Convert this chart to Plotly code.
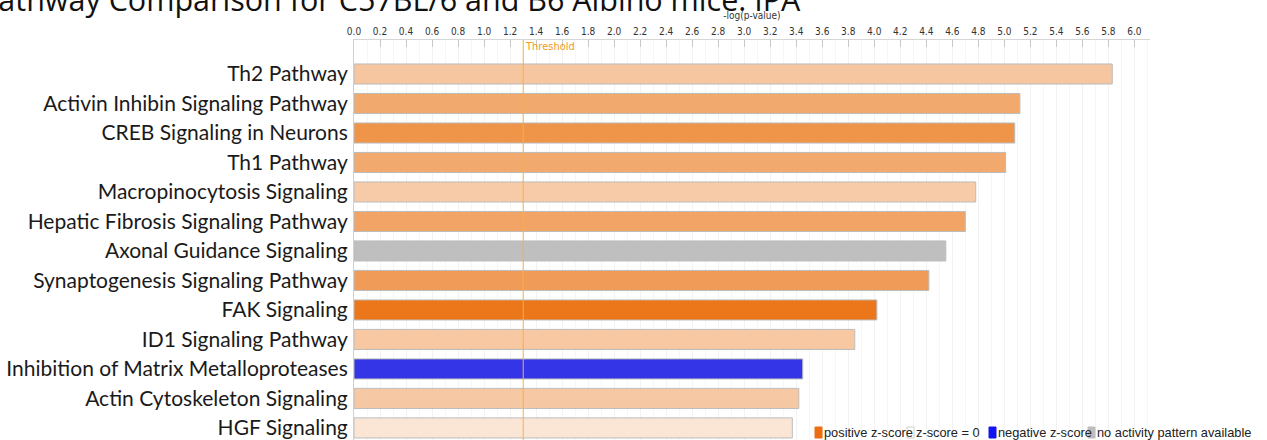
import plotly.graph_objects as go

# Canonical pathways ranked by significance
pathways = [
    "Th2 Pathway",
    "Activin Inhibin Signaling Pathway",
    "CREB Signaling in Neurons",
    "Th1 Pathway",
    "Macropinocytosis Signaling",
    "Hepatic Fibrosis Signaling Pathway",
    "Axonal Guidance Signaling",
    "Synaptogenesis Signaling Pathway",
    "FAK Signaling",
    "ID1 Signaling Pathway",
    "Inhibition of Matrix Metalloproteases",
    "Actin Cytoskeleton Signaling",
    "HGF Signaling",
]
neg_log_p = [5.83, 5.12, 5.08, 5.01, 4.78, 4.70, 4.55, 4.42, 4.02, 3.85, 3.45, 3.42, 3.37]
bar_colors = [
    "#f6c6a0", "#f1a96e", "#ef9549", "#f1a96e", "#f7cba7", "#f1a466", "#bfbfbf",
    "#f09c58", "#ec761a", "#f7c8a2", "#3535e8", "#f6c8a3", "#fbe6d6",
]
threshold = 1.301  # -log10(0.05)

# z-score key entries
key_labels = ["positive z-score", "z-score = 0", "negative z-score", "no activity pattern available"]
key_colors = ["#ec6e10", "#ffffff", "#1414f0", "#bdbdbd"]

W, H = 1267, 440
ML, MR, MT, MB = 354, 117, 40, 0
pw, ph = W - ML - MR, H - MT - MB


def px_x(p):
    return (p - ML) / pw


def px_y(p):
    return 1 + (MT - p) / ph


fig = go.Figure()
fig.add_trace(go.Bar(
    x=neg_log_p,
    y=pathways,
    orientation="h",
    width=0.68,
    marker=dict(color=bar_colors, line=dict(color="#bcbcbc", width=1)),
    hoverinfo="x+y",
    showlegend=False,
))

narrow = "Liberation Sans Narrow, Arial Narrow, DejaVu Sans Condensed, sans-serif"

fig.add_shape(type="line", xref="x", yref="paper", x0=threshold, x1=threshold,
              y0=0, y1=1, line=dict(color="#f8b040", width=1), layer="above")
fig.add_annotation(xref="x", yref="paper", x=threshold, y=px_y(47), text="Threshold",
                   showarrow=False, xanchor="left", yanchor="middle", xshift=0,
                   font=dict(family=narrow, size=11, color="#f39a1e"))

# Title (runs off the top edge of the page)
fig.add_annotation(xref="paper", yref="paper", x=px_x(-22), y=px_y(-1),
                   text="Pathway Comparison for C57BL/6 and B6 Albino mice: IPA",
                   showarrow=False, xanchor="left", yanchor="middle",
                   font=dict(family="Open Sans, sans-serif", size=30.5, color="#111111"))

# z-score key: swatch followed by its label, laid out left to right
key_x = [815, 907, 989, 1088]
for xs, lab, col in zip(key_x, key_labels, key_colors):
    fig.add_shape(type="rect", xref="paper", yref="paper",
                  x0=px_x(xs), x1=px_x(xs + 7), y0=px_y(438), y1=px_y(427),
                  fillcolor=col, line=dict(color="#d0d0d0" if col == "#ffffff" else col, width=1))
    fig.add_annotation(xref="paper", yref="paper", x=px_x(xs + 8), y=px_y(432.5), text=lab,
                       showarrow=False, xanchor="left", yanchor="middle", borderpad=0,
                       font=dict(family="Liberation Sans, Arial, sans-serif", size=12.8, color="#222222"))

fig.update_layout(
    width=W, height=H,
    margin=dict(l=ML, r=MR, t=MT, b=MB, pad=0),
    paper_bgcolor="white", plot_bgcolor="white",
    bargap=0.3,
    xaxis=dict(
        side="top", range=[0, 6.12], dtick=0.2, tick0=0, tickformat=".1f",
        showline=True, linecolor="#d6d6d6", linewidth=1,
        ticks="inside", ticklen=7, tickcolor="#c8c8c8",
        tickfont=dict(family=narrow, size=10, color="#333333"),
        showgrid=True, gridcolor="#f2f2f2", gridwidth=1,
        minor=dict(dtick=0.1, showgrid=True, gridcolor="#f6f6f6"),
        zeroline=False,
        title=dict(text="-log(p-value)", standoff=4,
                   font=dict(family=narrow, size=10, color="#333333")),
        fixedrange=True,
    ),
    yaxis=dict(
        type="category", categoryorder="array", categoryarray=pathways,
        range=[12.41, -1.153],
        showline=True, linecolor="#d0d0d0", linewidth=1,
        ticks="", ticklabelstandoff=1,
        tickfont=dict(family="Lato, sans-serif", size=21, color="#1a1a1a"),
        showgrid=False, zeroline=False, fixedrange=True,
    ),
)

fig.write_html("out.html")
